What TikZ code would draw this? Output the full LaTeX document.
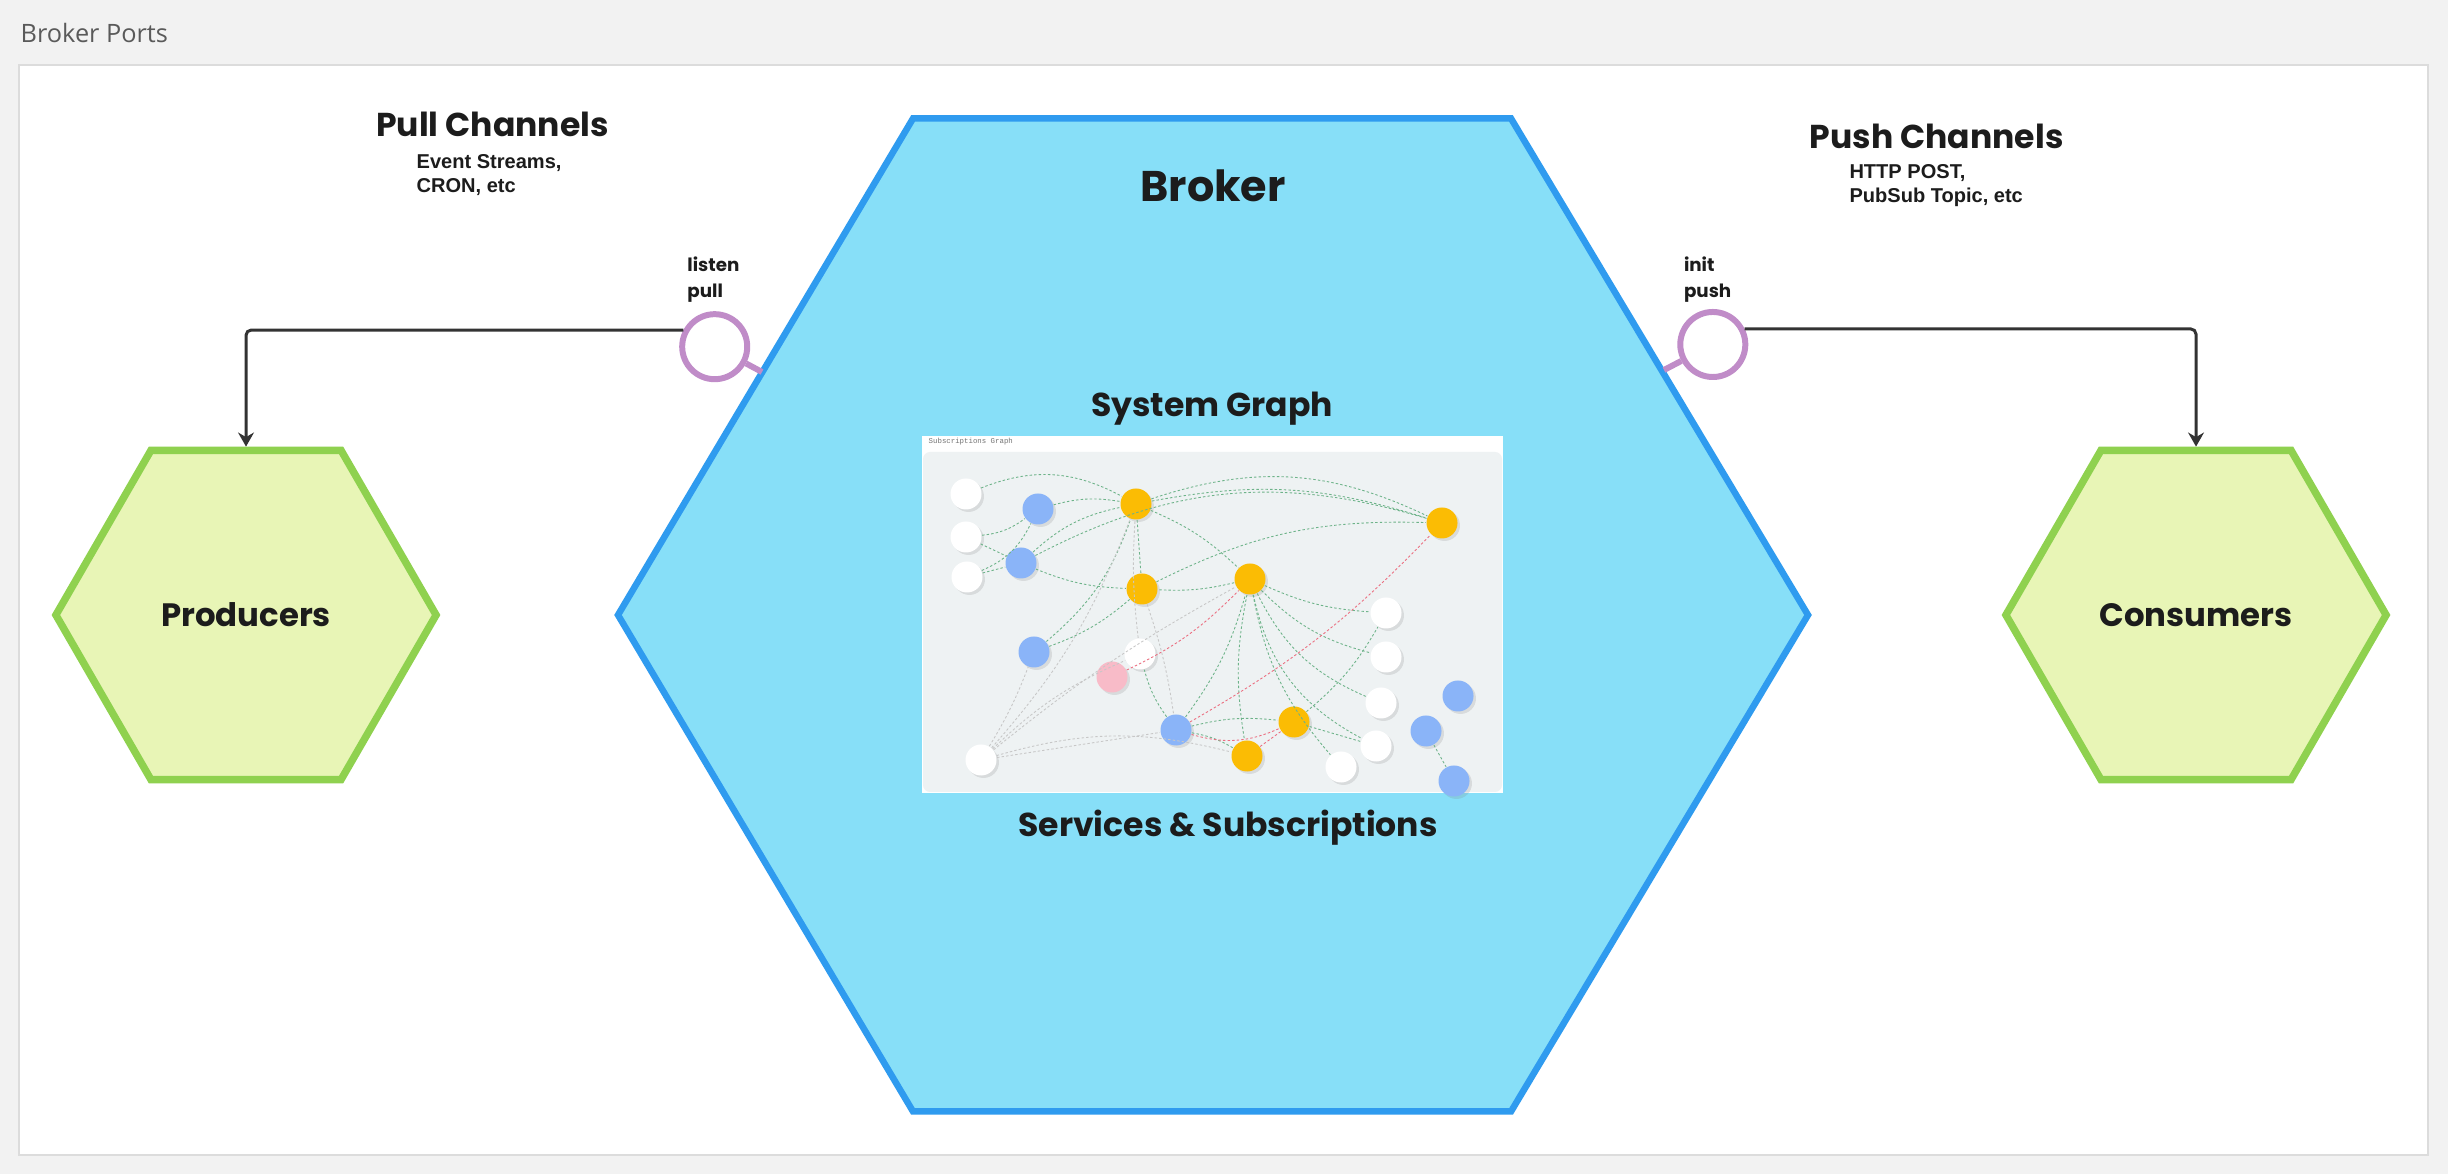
\documentclass[tikz,border=0pt]{standalone}
\usepackage{fontspec}
\setmainfont{Poppins}
\newfontfamily\arialfont{Liberation Sans}
\newfontfamily\titlefont{Open Sans}
\newfontfamily\codefont{Liberation Mono}
\usetikzlibrary{arrows.meta,shapes.geometric,shadows}

\definecolor{pagegray}{HTML}{F2F2F2}
\definecolor{panelline}{HTML}{DCDCDC}
\definecolor{titlegray}{HTML}{5A5A5A}
\definecolor{brokerfill}{HTML}{87DFF8}
\definecolor{brokerline}{HTML}{2F9BEF}
\definecolor{hexfill}{HTML}{E8F5B6}
\definecolor{hexline}{HTML}{8FD14F}
\definecolor{portline}{HTML}{C08CC8}
\definecolor{arrowgray}{HTML}{333333}
\definecolor{inkblack}{HTML}{1C1C1C}
\definecolor{graphbg}{HTML}{EEF2F3}
\definecolor{gyellow}{HTML}{FBBC04}
\definecolor{gblue}{HTML}{8AB4F8}
\definecolor{gpink}{HTML}{F8BBC8}
\definecolor{ggreen}{HTML}{3C9A62}
\definecolor{gred}{HTML}{E8546A}

\tikzset{
  broker/.style={draw=brokerline, fill=brokerfill, line width=1.85pt, line join=miter},
  hexa/.style={regular polygon, regular polygon sides=6, minimum size=3.8cm, inner sep=0pt,
    draw=hexline, fill=hexfill, line width=2.1pt, text=inkblack,
    font=\bfseries\fontsize{9.2}{11}\selectfont},
  port/.style={circle, draw=portline, fill=white, line width=1.7pt, minimum size=0.65cm, inner sep=0pt},
  portstick/.style={draw=portline, line width=1.7pt},
  flow/.style={draw=arrowgray, line width=0.85pt, rounded corners=1.5pt, -{Stealth[length=4pt,width=4.5pt]}},
  head/.style={font=\bfseries\fontsize{9.4}{11}\selectfont, text=inkblack, inner sep=0pt},
  bighead/.style={font=\bfseries\fontsize{12.2}{14}\selectfont, text=inkblack, inner sep=0pt},
  note/.style={font=\arialfont\bfseries\fontsize{5.7}{6.7}\selectfont, text=inkblack, inner sep=0pt, align=left},
  tag/.style={font=\bfseries\fontsize{5.2}{7.3}\selectfont, text=inkblack, inner sep=0pt, align=left},
  svc/.style={circle, minimum size=0.31cm, inner sep=0pt,
    drop shadow={opacity=0.2, shadow xshift=0.7pt, shadow yshift=-0.7pt}},
  sw/.style={svc, fill=white},
  sb/.style={svc, fill=gblue},
  sy/.style={svc, fill=gyellow},
  sp/.style={svc, fill=gpink},
  edgegreen/.style={draw=ggreen!75, dash pattern=on 0.7pt off 0.6pt, line width=0.25pt},
  edgered/.style={draw=gred!85, dash pattern=on 0.7pt off 0.6pt, line width=0.25pt},
  edgegray/.style={draw=black!22, dash pattern=on 0.7pt off 0.6pt, line width=0.25pt}
}

\begin{document}
\begin{tikzpicture}[x=0.01cm, y=-0.01cm]
\useasboundingbox (0,0) rectangle (2448,1174);
\fill[pagegray] (0,0) rectangle (2448,1174);
\draw[panelline, fill=white, line width=0.6pt] (19,65) rectangle (2428,1155);
\node[anchor=base west, inner sep=0pt, text=titlegray, font=\titlefont\fontsize{7.2}{8}\selectfont] (title) at (20,43) {Broker Ports};

% the broker
\draw[broker] (618,615) -- (913,118.5) -- (1511,118.5) -- (1808,615) -- (1511,1111.5) -- (913,1111.5) -- cycle;
\node[bighead, anchor=base] (broker) at (1213,201.7) {Broker};
\node[head, anchor=base] (sysgraph) at (1212,416.7) {System Graph};
\node[head, anchor=base] (services) at (1228,836.7) {Services \& Subscriptions};

% producers and consumers
\node[hexa] (prod) at (246,615) {Producers};
\node[hexa] (cons) at (2196,615) {Consumers};

% ports
\coordinate (lpin) at (762,372);
\coordinate (ipin) at (1664,370);
\node[port] (lp) at (714.7,346.7) {};
\node[port] (ip) at (1712.8,344.5) {};
\draw[portstick] (lp) -- (lpin);
\draw[portstick] (ip) -- (ipin);
\draw[flow] (lp.152) -| (prod.north);
\draw[flow] (ip.26) -| (cons.north);

\node[tag, anchor=north west] (lptag) at (686.7,256) {listen\\pull};
\node[tag, anchor=north west] (iptag) at (1683.3,256) {init\\push};

% channels
\node[head, anchor=base] (pullhead) at (492.5,137) {Pull Channels};
\node[note, anchor=north west] (pullnote) at (416,154) {Event Streams,\\CRON, etc};
\node[head, anchor=base] (pushhead) at (1936.6,148.3) {Push Channels};
\node[note, anchor=north west] (pushnote) at (1848.8,164) {HTTP POST,\\PubSub Topic, etc};

% system graph snapshot
\fill[white] (922,436) rectangle (1503,793);
\fill[graphbg, rounded corners=2pt] (923,452) rectangle (1502,792);
\node[anchor=west, inner sep=0pt, text=black!55, font=\codefont\fontsize{2.1}{2.5}\selectfont] (snaphead) at (928,441.5) {Subscriptions Graph};

\foreach \n/\x/\y/\s in {g1/966/494/sw, g2/1038/509/sb, g3/966/537/sw, g4/967/577/sw,
    g5/1021/563/sb, g6/1136/504/sy, g7/1442/523/sy, g8/1142/589/sy, g9/1250/579/sy,
    g10/1386/613/sw, g11/1386/657/sw, g12/1034/652/sb, g13/1140/654/sw, g14/1112/677/sp,
    g15/1381/703/sw, g16/1458/696/sb, g17/1176/730/sb, g18/1294/722/sy, g19/1376/746/sw,
    g20/1426/731/sb, g21/1247/756/sy, g22/1341/767/sw, g23/981/760/sw, g24/1454/781/sb}
  \node[\s] (\n) at (\x,\y) {};

\foreach \a/\b/\c in {g1/g6/25, g2/g6/12, g5/g6/15, g4/g5/0, g3/g2/-15, g4/g2/-20, g3/g5/0,
    g6/g7/22, g6/g7/14, g5/g7/22, g8/g7/14, g6/g8/0, g5/g8/-10, g12/g6/-15, g12/g8/-10,
    g9/g8/8, g9/g10/-10, g9/g11/-15, g9/g15/-20, g9/g19/-25, g9/g22/-15, g9/g21/-10,
    g6/g9/10, g17/g13/10, g17/g21/10, g17/g18/10, g18/g19/0, g18/g10/-10, g20/g24/0, g17/g9/-10}
  \draw[edgegreen] (\a) to[bend left=\c] (\b);
\foreach \a/\b/\c in {g14/g9/-10, g17/g7/-8, g21/g18/0, g17/g18/-20}
  \draw[edgered] (\a) to[bend left=\c] (\b);
\foreach \a/\b/\c in {g23/g12/-5, g23/g13/10, g23/g6/-10, g23/g9/5, g23/g17/0, g23/g21/15, g13/g6/5, g8/g17/5}
  \draw[edgegray] (\a) to[bend left=\c] (\b);
\end{tikzpicture}
\end{document}
